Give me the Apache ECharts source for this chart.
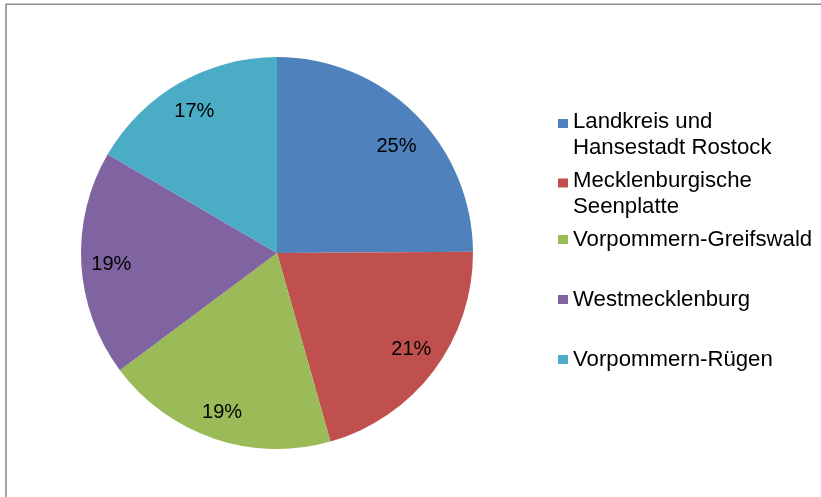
<!DOCTYPE html>
<html>
<head>
<meta charset="utf-8">
<script src="https://cdn.jsdelivr.net/npm/echarts@6/dist/echarts.min.js"></script>
<style>
html,body{margin:0;padding:0;background:#fff;}
#chart{width:821px;height:497px;}
</style>
</head>
<body>
<div id="chart"></div>
<script>
// Data
const categories = ['Landkreis und\nHansestadt Rostock', 'Mecklenburgische\nSeenplatte', 'Vorpommern-Greifswald', 'Westmecklenburg', 'Vorpommern-Rügen'];
const shares = [24.9, 20.7, 19.2, 18.6, 16.6];
const colors = ['#4F81BD', '#C0504D', '#9BBB59', '#8064A2', '#4BACC6'];

// Layout (positions only)
const legendTops = [97, 156.5, 228.5, 288.5, 348.5];
const labelOffsets = [[1, 13], [0, -4], [-1, 0], [2, 2], [1, 4]];

const pieData = categories.map((c, i) => ({ name: c, value: shares[i], itemStyle: { color: colors[i] } }));
const ghostData = categories.map((c, i) => ({
  name: c, value: shares[i],
  itemStyle: { color: 'rgba(0,0,0,0)' },
  label: { offset: labelOffsets[i] }
}));

const chart = echarts.init(document.getElementById('chart'), null, { renderer: 'canvas' });

const FONT = 'Liberation Sans, Arial, sans-serif';
const legends = categories.map((c, i) => {
  const twoLine = c.indexOf('\n') >= 0;
  return {
    data: [c],
    left: 558,
    top: legendTops[i],
    orient: 'vertical',
    padding: 0,
    itemWidth: 10,
    itemHeight: 9,
    icon: 'rect',
    selectedMode: false,
    formatter: name => {
      const lines = name.split('\n').map(l => '{t|' + l + '}');
      return (twoLine ? '{s| }\n' : '') + lines.join('\n');
    },
    textStyle: {
      fontFamily: FONT,
      fontSize: 22.2,
      color: '#000',
      rich: {
        t: { fontFamily: FONT, fontSize: 22.2, lineHeight: 26, color: '#000' },
        s: { fontSize: 1, lineHeight: 22 }
      }
    }
  };
});

chart.setOption({
  animation: false,
  backgroundColor: '#fff',
  legend: legends,
  graphic: [{
    type: 'rect',
    shape: { x: 6, y: 4.3, width: 1000, height: 1000 },
    style: { fill: 'none', stroke: '#8e8e8e', lineWidth: 1.6 },
    silent: true
  }],
  series: [
    {
      type: 'pie',
      center: [277, 253],
      radius: [0, 196],
      startAngle: 90,
      clockwise: true,
      avoidLabelOverlap: false,
      label: { show: false },
      labelLine: { show: false },
      emphasis: { disabled: true },
      data: pieData
    },
    {
      type: 'pie',
      center: [277, 253],
      radius: [140, 190],
      startAngle: 90,
      clockwise: true,
      silent: true,
      avoidLabelOverlap: false,
      legendHoverLink: false,
      label: {
        show: true,
        position: 'inside',
        formatter: p => Math.round(p.percent) + '%',
        fontFamily: FONT,
        fontSize: 20,
        color: '#000'
      },
      labelLine: { show: false },
      emphasis: { disabled: true },
      data: ghostData
    }
  ]
});
</script>
</body>
</html>
